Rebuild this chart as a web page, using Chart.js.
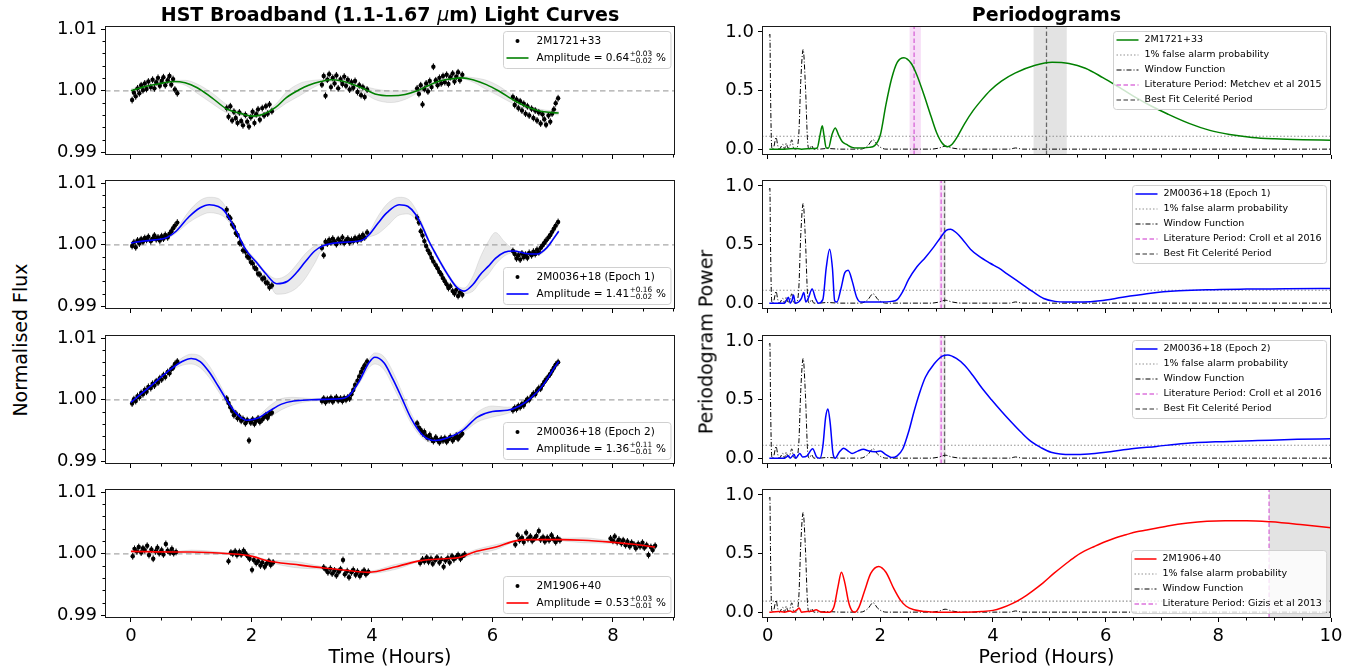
<!DOCTYPE html>
<html>
<head>
<meta charset="utf-8">
<title>HST light curves and periodograms</title>
<script src="https://cdn.jsdelivr.net/npm/chart.js@4.4.1/dist/chart.umd.min.js"></script>
<style>
  html, body { margin: 0; padding: 0; background: #ffffff; }
  #figure { position: relative; width: 1363px; height: 670px; overflow: hidden; background: #ffffff;
            font-family: "DejaVu Sans", sans-serif; color: #000; }
  #figure canvas { position: absolute; }
  .label { position: absolute; white-space: nowrap; line-height: 1; transform: translate(-50%, -50%); z-index: 5; }
  .title { font-weight: bold; font-size: 19px; }
  .axis-title { font-size: 19px; }
  .vertical { transform: translate(-50%, -50%) rotate(-90deg); }
</style>
</head>
<body>
<div id="figure">
  <div class="label title" style="left:390px;top:13.5px">HST Broadband (1.1-1.67 <span style="font-style:italic;font-weight:normal">μ</span>m) Light Curves</div>
  <div class="label title" style="left:1046.5px;top:13.5px">Periodograms</div>
  <div class="label axis-title" style="left:390px;top:656px">Time (Hours)</div>
  <div class="label axis-title" style="left:1046.5px;top:656px">Period (Hours)</div>
  <div class="label axis-title vertical" style="left:20px;top:340px">Normalised Flux</div>
  <div class="label axis-title vertical" style="left:706px;top:342px">Periodogram Power</div>
</div>
<script>
const FONT = '"DejaVu Sans", sans-serif';

// ---------------- light-curve photometry ----------------
// HST orbit time stamps (hours) shared by the 2M1721 and 2M0036 visits
const orbitTimes = [
  0.02,0.05,0.08,0.11,0.14,0.17,0.20,0.23,0.26,0.29,0.33,0.36,0.39,0.42,0.45,0.48,0.51,0.54,0.57,0.61,0.64,0.67,0.70,0.73,0.77,
  1.59,1.62,1.65,1.68,1.71,1.74,1.77,1.80,1.83,1.86,1.90,1.93,1.96,1.99,2.02,2.05,2.08,2.11,2.14,2.18,2.21,2.24,2.27,2.30,2.34,
  3.17,3.20,3.23,3.26,3.29,3.32,3.35,3.38,3.41,3.44,3.48,3.51,3.54,3.57,3.60,3.63,3.66,3.69,3.72,3.76,3.79,3.82,3.85,3.88,3.92,
  4.75,4.78,4.81,4.84,4.87,4.90,4.93,4.96,4.99,5.02,5.06,5.09,5.12,5.15,5.18,5.21,5.24,5.27,5.30,5.34,5.37,5.40,5.43,5.46,5.50,
  6.34,6.37,6.40,6.43,6.46,6.49,6.52,6.55,6.58,6.61,6.65,6.68,6.71,6.74,6.77,6.80,6.83,6.86,6.89,6.93,6.96,6.99,7.02,7.05,7.09
];
// six-orbit visit of 2M1906+40
const orbitTimes1906 = [
  0.03,0.06,0.10,0.13,0.17,0.20,0.23,0.27,0.30,0.34,0.37,0.41,0.44,0.47,0.51,0.54,0.58,0.61,0.65,0.68,0.71,0.75,
  1.62,1.66,1.69,1.73,1.76,1.80,1.83,1.87,1.90,1.94,1.97,2.01,2.04,2.08,2.11,2.15,2.18,2.22,2.25,2.29,2.32,2.36,
  3.20,3.24,3.27,3.31,3.34,3.38,3.41,3.45,3.48,3.52,3.55,3.59,3.62,3.66,3.69,3.73,3.76,3.80,3.83,3.87,3.90,3.94,
  4.80,4.84,4.87,4.91,4.94,4.98,5.01,5.05,5.08,5.12,5.15,5.19,5.22,5.26,5.29,5.33,5.36,5.40,5.43,5.47,5.50,5.54,
  6.38,6.42,6.45,6.49,6.52,6.56,6.59,6.63,6.66,6.70,6.73,6.77,6.80,6.84,6.87,6.91,6.94,6.98,7.01,7.05,7.08,7.12,
  7.96,8.00,8.03,8.07,8.10,8.14,8.17,8.21,8.24,8.28,8.31,8.35,8.38,8.42,8.45,8.49,8.52,8.56,8.59,8.63,8.66,8.70
];

const flux1721 = [
  0.9985,0.9997,0.9991,1.0004,0.9996,1.0009,1.0001,1.0012,1.0003,1.0015,1.0006,1.0018,1.0004,1.0014,1.0021,1.0008,1.0016,1.0022,1.0009,1.0017,1.0024,1.0010,1.0019,1.0002,0.9996,
  0.9972,0.9958,0.9975,0.9952,0.9966,0.9956,0.9948,0.9965,0.9951,0.9944,0.9961,0.9950,0.9942,0.9957,0.9966,0.9948,0.9962,0.9970,0.9953,0.9972,0.9960,0.9975,0.9963,0.9978,0.9967,
  1.0010,1.0024,0.9992,1.0018,1.0027,1.0006,1.0021,1.0012,1.0025,1.0004,1.0019,1.0011,1.0023,1.0008,1.0018,1.0002,1.0014,1.0005,1.0016,0.9998,1.0009,0.9993,1.0006,0.9990,1.0002,
  1.0004,0.9995,1.0009,0.9978,1.0003,1.0012,0.9999,1.0016,1.0006,1.0039,1.0017,1.0009,1.0021,1.0012,1.0024,1.0014,1.0026,1.0011,1.0022,1.0028,1.0015,1.0023,1.0030,1.0017,1.0026,
  0.9990,0.9977,0.9986,0.9972,0.9983,0.9968,0.9979,0.9963,0.9975,0.9960,0.9971,0.9956,0.9968,0.9952,0.9965,0.9947,0.9962,0.9954,0.9945,0.9960,0.9950,0.9963,0.9970,0.9980,0.9988
];
const flux0036e1 = [
  0.9998,1.0004,0.9996,1.0007,1.0002,1.0009,1.0005,1.0011,1.0008,1.0013,1.0006,1.0010,1.0015,1.0009,1.0012,1.0007,1.0014,1.0010,1.0016,1.0012,1.0018,1.0022,1.0027,1.0031,1.0036,
  1.0057,1.0046,1.0043,1.0033,1.0029,1.0019,1.0016,1.0003,1.0002,0.9991,0.9989,0.9981,0.9979,0.9972,0.9970,0.9963,0.9961,0.9953,0.9952,0.9945,0.9946,0.9939,0.9938,0.9931,0.9934,
  0.9995,0.9983,1.0005,1.0002,1.0008,1.0004,1.0010,1.0006,1.0001,1.0009,1.0005,1.0012,1.0003,1.0007,1.0010,1.0004,1.0008,1.0006,1.0011,1.0007,1.0013,1.0009,1.0016,1.0012,1.0020,
  1.0044,1.0036,1.0022,1.0015,1.0006,0.9998,0.9991,0.9986,0.9979,0.9973,0.9967,0.9962,0.9956,0.9952,0.9946,0.9941,0.9936,0.9930,0.9933,0.9925,0.9921,0.9927,0.9917,0.9923,0.9919,
  0.9990,0.9985,0.9978,0.9983,0.9976,0.9986,0.9980,0.9984,0.9979,0.9987,0.9983,0.9989,0.9985,0.9992,0.9988,0.9995,0.9999,1.0003,1.0007,1.0012,1.0016,1.0021,1.0026,1.0031,1.0037
];
const flux0036e2 = [
  0.9994,1.0001,0.9998,1.0006,1.0004,1.0011,1.0009,1.0016,1.0013,1.0021,1.0019,1.0026,1.0023,1.0030,1.0028,1.0035,1.0033,1.0040,1.0037,1.0045,1.0043,1.0050,1.0052,1.0058,1.0062,
  1.0002,0.9995,0.9988,0.9982,0.9975,0.9978,0.9970,0.9973,0.9966,0.9969,0.9962,0.9967,0.9934,0.9963,0.9968,0.9961,0.9966,0.9970,0.9964,0.9968,0.9972,0.9975,0.9971,0.9977,0.9979,
  0.9998,1.0002,0.9996,1.0001,0.9999,1.0003,0.9997,1.0001,1.0004,0.9999,1.0002,0.9998,1.0003,1.0000,1.0004,1.0002,1.0009,1.0016,1.0024,1.0031,1.0038,1.0045,1.0051,1.0056,1.0062,
  0.9962,0.9955,0.9951,0.9946,0.9948,0.9941,0.9938,0.9943,0.9936,0.9933,0.9939,0.9935,0.9931,0.9937,0.9934,0.9938,0.9932,0.9936,0.9940,0.9934,0.9938,0.9942,0.9937,0.9941,0.9945,
  0.9983,0.9987,0.9985,0.9990,0.9988,0.9993,0.9991,0.9997,1.0001,1.0000,1.0006,1.0010,1.0009,1.0015,1.0019,1.0018,1.0024,1.0029,1.0033,1.0038,1.0042,1.0047,1.0052,1.0057,1.0061
];
const flux1906 = [
  0.9996,1.0008,1.0004,1.0011,1.0002,1.0009,1.0006,1.0013,0.9998,1.0007,0.9992,1.0004,1.0010,1.0001,1.0006,0.9999,1.0016,1.0005,1.0002,1.0008,1.0001,1.0003,
  0.9988,1.0002,1.0000,1.0004,0.9998,1.0003,0.9999,1.0005,1.0001,0.9996,0.9992,0.9974,0.9990,0.9985,0.9988,0.9981,0.9986,0.9979,0.9984,0.9988,0.9982,0.9986,
  0.9978,0.9974,0.9970,0.9976,0.9968,0.9973,0.9965,0.9971,0.9975,0.9990,0.9967,0.9972,0.9962,0.9970,0.9974,0.9966,0.9971,0.9964,0.9969,0.9973,0.9967,0.9971,
  0.9985,0.9991,0.9988,0.9994,0.9987,0.9992,0.9984,0.9990,0.9994,0.9986,0.9991,0.9979,0.9989,0.9993,0.9986,0.9996,0.9991,0.9995,0.9998,0.9992,0.9996,0.9999,
  1.0015,1.0030,1.0022,1.0026,1.0019,1.0034,1.0024,1.0028,1.0021,1.0025,1.0029,1.0037,1.0023,1.0027,1.0020,1.0026,1.0022,1.0030,1.0024,1.0019,1.0025,1.0022,
  1.0025,1.0021,1.0028,1.0019,1.0023,1.0017,1.0022,1.0014,1.0020,1.0012,1.0018,1.0015,1.0009,1.0016,1.0012,1.0018,1.0010,1.0014,0.9998,1.0011,1.0006,1.0013
];
const fluxErr = 0.00055;   // typical photometric uncertainty per exposure

// ---------------- Celerite GP fits: mean model and spread of posterior samples ----------------
const modelTime1721 = [0.0,0.2,0.45,0.7,0.9,1.1,1.34,1.6,1.83,2.02,2.2,2.4,2.58,2.8,2.95,3.15,3.32,3.5,3.7,3.85,4.05,4.32,4.55,4.75,4.95,5.1,5.3,5.5,5.7,5.9,6.1,6.37,6.6,6.8,6.95,7.1];
const model1721    = [1.0000,1.0006,1.0011,1.0015,1.0013,1.0005,0.9989,0.9970,0.9963,0.9959,0.9962,0.9973,0.9989,1.0002,1.0009,1.0015,1.0018,1.0016,1.0010,1.0004,0.9995,0.9992,0.9994,1.0000,1.0009,1.0015,1.0019,1.0021,1.0017,1.0010,1.0000,0.9984,0.9973,0.9967,0.9965,0.9964];
const sampleHi1721 = [1.0003,1.0008,1.0013,1.0017,1.0017,1.0011,0.9997,0.9977,0.9966,0.9962,0.9965,0.9978,0.9998,1.0012,1.0016,1.0018,1.0020,1.0018,1.0013,1.0008,1.0003,1.0000,1.0000,1.0003,1.0011,1.0017,1.0021,1.0023,1.0021,1.0017,1.0008,0.9990,0.9976,0.9970,0.9968,0.9967];
const sampleLo1721 = [0.9997,1.0004,1.0009,1.0013,1.0009,0.9996,0.9980,0.9964,0.9960,0.9956,0.9959,0.9968,0.9980,0.9992,1.0001,1.0011,1.0015,1.0013,1.0006,0.9998,0.9986,0.9981,0.9986,0.9996,1.0006,1.0013,1.0017,1.0019,1.0013,1.0002,0.9992,0.9978,0.9970,0.9964,0.9962,0.9961];

const modelTime0036e1 = [0.0,0.2,0.4,0.6,0.75,0.96,1.15,1.3,1.45,1.55,1.65,1.77,1.9,2.08,2.24,2.42,2.6,2.75,2.89,3.05,3.2,3.5,3.82,3.94,4.1,4.25,4.45,4.6,4.72,4.82,4.94,5.06,5.25,5.4,5.53,5.68,5.8,5.93,6.05,6.2,6.35,6.55,6.75,6.9,7.0,7.1];
const model0036e1    = [1.0003,1.0006,1.0008,1.0012,1.0022,1.0045,1.0060,1.0065,1.0062,1.0055,1.0040,1.0018,0.9993,0.9972,0.9953,0.9937,0.9941,0.9955,0.9972,0.9990,0.9999,1.0004,1.0007,1.0015,1.0035,1.0052,1.0065,1.0062,1.0050,1.0033,1.0007,0.9985,0.9953,0.9932,0.9925,0.9936,0.9952,0.9965,0.9978,0.9988,0.9990,0.9986,0.9985,0.9995,1.0008,1.0022];
const sampleHi0036e1 = [1.0005,1.0008,1.0010,1.0014,1.0025,1.0054,1.0072,1.0077,1.0075,1.0065,1.0046,1.0021,0.9996,0.9975,0.9956,0.9945,0.9952,0.9968,0.9985,0.9998,1.0002,1.0006,1.0009,1.0018,1.0046,1.0066,1.0077,1.0074,1.0059,1.0038,1.0010,0.9988,0.9956,0.9935,0.9930,0.9950,0.9980,1.0005,1.0020,1.0005,0.9993,0.9988,0.9987,0.9997,1.0010,1.0024];
const sampleLo0036e1 = [1.0001,1.0004,1.0006,1.0010,1.0019,1.0036,1.0047,1.0052,1.0050,1.0045,1.0034,1.0015,0.9990,0.9969,0.9950,0.9920,0.9922,0.9930,0.9945,0.9970,0.9996,1.0002,1.0005,1.0012,1.0018,1.0030,1.0048,1.0050,1.0042,1.0028,1.0004,0.9982,0.9950,0.9929,0.9921,0.9925,0.9940,0.9952,0.9968,0.9982,0.9987,0.9984,0.9983,0.9993,1.0006,1.0020];

const modelTime0036e2 = [0.0,0.3,0.6,0.85,1.0,1.15,1.3,1.45,1.6,1.75,1.92,2.1,2.3,2.5,2.7,3.0,3.3,3.55,3.65,3.8,3.95,4.05,4.2,4.35,4.5,4.65,4.85,5.05,5.25,5.5,5.75,6.0,6.25,6.45,6.65,6.85,7.0,7.1];
const model0036e2    = [0.9996,1.0020,1.0045,1.0062,1.0067,1.0062,1.0045,1.0022,0.9998,0.9978,0.9967,0.9970,0.9982,0.9993,0.9998,1.0000,1.0001,1.0003,1.0010,1.0032,1.0060,1.0069,1.0060,1.0033,1.0002,0.9970,0.9942,0.9934,0.9938,0.9950,0.9972,0.9981,0.9983,0.9990,1.0004,1.0025,1.0048,1.0062];
const sampleHi0036e2 = [0.9998,1.0022,1.0047,1.0068,1.0074,1.0071,1.0055,1.0030,1.0003,0.9982,0.9970,0.9973,0.9990,1.0002,1.0004,1.0002,1.0003,1.0005,1.0013,1.0036,1.0066,1.0076,1.0070,1.0045,1.0012,0.9978,0.9946,0.9937,0.9941,0.9954,0.9980,0.9990,0.9988,0.9993,1.0007,1.0028,1.0051,1.0064];
const sampleLo0036e2 = [0.9994,1.0018,1.0043,1.0056,1.0058,1.0052,1.0036,1.0014,0.9992,0.9972,0.9962,0.9964,0.9972,0.9984,0.9992,0.9998,0.9999,1.0001,1.0007,1.0028,1.0052,1.0058,1.0049,1.0022,0.9992,0.9962,0.9937,0.9930,0.9935,0.9946,0.9964,0.9972,0.9978,0.9987,1.0001,1.0022,1.0045,1.0060];

const modelTime1906 = [0.0,0.75,1.0,1.65,1.96,2.3,2.7,3.2,3.6,3.94,4.4,4.81,5.2,5.45,5.7,6.06,6.38,6.6,7.12,7.5,7.96,8.3,8.7];
const model1906    = [1.0004,1.0003,1.0003,1.0000,0.9997,0.9988,0.9983,0.9977,0.9973,0.9970,0.9979,0.9989,0.9992,0.9994,1.0003,1.0011,1.0021,1.0023,1.0023,1.0022,1.0019,1.0016,1.0011];
const sampleHi1906 = [1.0005,1.0004,1.0006,1.0001,0.9998,0.9990,0.9988,0.9979,0.9974,0.9972,0.9983,0.9990,0.9993,0.9996,1.0006,1.0015,1.0022,1.0024,1.0025,1.0026,1.0021,1.0017,1.0012];
const sampleLo1906 = [1.0003,1.0002,1.0000,0.9999,0.9996,0.9986,0.9978,0.9975,0.9972,0.9968,0.9975,0.9988,0.9991,0.9992,0.9999,1.0007,1.0020,1.0022,1.0021,1.0018,1.0017,1.0015,1.0010];

// ---------------- Lomb-Scargle periodograms ----------------
const pgPeriod1721 = [0.03,0.3,0.5,0.6,0.8,0.88,0.93,0.97,1.0,1.04,1.08,1.14,1.2,1.26,1.33,1.4,1.5,1.6,1.8,1.9,2.0,2.1,2.2,2.3,2.42,2.55,2.65,2.77,2.9,3.0,3.1,3.19,3.27,3.36,3.5,3.65,3.8,3.95,4.15,4.4,4.75,5.05,5.35,5.64,5.95,6.23,6.5,6.8,7.1,7.48,7.85,8.2,8.6,9.0,9.5,10.0];
const pgPower1721  = [0.0,0.0,0.005,0.0,0.005,0.01,0.12,0.2,0.12,0.01,0.01,0.12,0.18,0.12,0.06,0.04,0.015,0.01,0.015,0.03,0.12,0.38,0.6,0.74,0.78,0.73,0.63,0.47,0.28,0.14,0.05,0.02,0.04,0.1,0.22,0.33,0.42,0.5,0.58,0.65,0.715,0.74,0.73,0.69,0.61,0.53,0.45,0.37,0.3,0.22,0.16,0.125,0.1,0.088,0.08,0.076];

const pgPeriod0036e1 = [0.03,0.3,0.34,0.37,0.4,0.43,0.46,0.49,0.55,0.6,0.64,0.68,0.72,0.79,0.85,0.9,0.98,1.04,1.1,1.15,1.19,1.23,1.3,1.37,1.43,1.5,1.58,1.65,1.8,2.0,2.2,2.3,2.4,2.5,2.65,2.8,2.95,3.07,3.17,3.25,3.35,3.45,3.6,3.75,3.95,4.1,4.25,4.4,4.55,4.7,4.9,5.1,5.3,5.6,5.9,6.3,6.8,7.3,7.8,8.5,9.2,10.0];
const pgPower0036e1  = [0.0,0.0,0.03,0.05,0.0,0.02,0.07,0.0,0.01,0.04,0.09,0.01,0.04,0.12,0.04,0.0,0.03,0.3,0.46,0.3,0.02,0.01,0.12,0.26,0.28,0.19,0.05,0.01,0.01,0.01,0.015,0.03,0.1,0.2,0.31,0.39,0.48,0.56,0.62,0.63,0.6,0.55,0.46,0.4,0.34,0.3,0.25,0.2,0.15,0.1,0.04,0.015,0.01,0.01,0.02,0.05,0.085,0.105,0.115,0.12,0.122,0.125];

const pgPeriod0036e2 = [0.03,0.3,0.37,0.4,0.47,0.5,0.57,0.62,0.7,0.8,0.87,0.93,0.98,1.03,1.07,1.11,1.16,1.2,1.27,1.35,1.43,1.5,1.6,1.7,1.8,1.9,2.0,2.1,2.2,2.3,2.4,2.5,2.6,2.7,2.8,2.95,3.1,3.2,3.35,3.5,3.65,3.8,3.97,4.15,4.32,4.5,4.68,4.85,5.03,5.39,5.7,6.0,6.4,6.9,7.4,8.0,8.7,9.4,10.0];
const pgPower0036e2  = [0.0,0.0,0.02,0.0,0.03,0.0,0.04,0.01,0.02,0.08,0.01,0.0,0.1,0.35,0.42,0.3,0.04,0.0,0.05,0.085,0.06,0.04,0.06,0.075,0.06,0.055,0.06,0.03,0.005,0.02,0.08,0.22,0.4,0.56,0.69,0.8,0.87,0.88,0.85,0.79,0.7,0.6,0.5,0.4,0.31,0.22,0.14,0.09,0.05,0.03,0.035,0.05,0.075,0.1,0.125,0.14,0.15,0.16,0.165];

const pgPeriod1906 = [0.03,0.2,0.3,0.4,0.45,0.52,0.56,0.6,0.7,0.8,0.86,0.92,1.0,1.1,1.18,1.25,1.31,1.37,1.44,1.5,1.55,1.62,1.72,1.83,1.97,2.1,2.24,2.36,2.46,2.6,2.8,3.0,3.5,3.8,4.0,4.15,4.35,4.52,4.7,4.89,5.08,5.26,5.45,5.62,5.8,5.99,6.18,6.36,6.55,6.73,7.1,7.46,7.8,8.12,8.5,8.93,9.5,10.0];
const pgPower1906  = [0.0,0.005,0.0,0.01,0.0,0.02,0.035,0.0,0.005,0.01,0.02,0.005,0.0,0.0,0.05,0.22,0.34,0.25,0.08,0.01,0.0,0.04,0.18,0.33,0.39,0.34,0.2,0.1,0.05,0.02,0.005,0.0,0.0,0.005,0.015,0.035,0.075,0.12,0.18,0.25,0.33,0.4,0.47,0.52,0.56,0.6,0.635,0.66,0.685,0.7,0.735,0.76,0.775,0.78,0.78,0.77,0.745,0.72];

// spectral window of the HST sampling
const windowPeriod = [0.03,0.04,0.05,0.065,0.08,0.11,0.15,0.18,0.21,0.25,0.27,0.3,0.33,0.36,0.39,0.43,0.46,0.5,0.55,0.59,0.63,0.67,0.71,0.74,0.78,0.82,0.9,1.05,1.3,1.65,1.78,1.87,1.96,2.1,2.9,3.05,3.15,3.27,3.45,4.3,4.4,4.52,10.0];
const windowPower  = [0.97,0.98,0.55,0.1,0.0,0.02,0.1,0.03,0.0,0.03,0.04,0.0,0.05,0.01,0.02,0.08,0.01,0.0,0.1,0.6,0.85,0.55,0.06,0.0,0.03,0.0,0.0,0.005,0.0,0.0,0.03,0.08,0.03,0.0,0.0,0.01,0.025,0.01,0.0,0.0,0.01,0.0,0.0];

const falseAlarm1pct = [0.11, 0.11, 0.11, 0.094];
const litPeriod      = [2.6, 3.08, 3.08, 8.9];
const litPeriodRange = [[2.52, 2.72], [3.05, 3.11], [3.05, 3.11], null];
const fitPeriod      = [4.95, 3.14, 3.14, null];
const fitPeriodRange = [[4.72, 5.31], [3.12, 3.16], [3.12, 3.16], [8.9, 10.5]];

// ---------------- labels and ticks ----------------
const targetNames = ['2M1721+33', '2M0036+18 (Epoch 1)', '2M0036+18 (Epoch 2)', '2M1906+40'];
const amplitude   = ['0.64', '1.41', '1.36', '0.53'];
const ampUpper    = ['+0.03', '+0.16', '+0.11', '+0.03'];
const ampLower    = ['\u22120.02', '\u22120.02', '\u22120.01', '\u22120.01'];
const litLabels   = ['Literature Period: Metchev et al 2015', 'Literature Period: Croll et al 2016',
                     'Literature Period: Croll et al 2016', 'Literature Period: Gizis et al 2013'];
const timeTicks   = [0, 2, 4, 6, 8];
const fluxTicks   = [0.99, 1.00, 1.01];
const periodTicks = [0, 2, 4, 6, 8, 10];
const powerTicks  = [0, 0.5, 1.0];

const timeRange   = [-0.43, 9.03];
const fluxRange   = [0.9896, 1.0105];
const periodRange = [-0.1, 10];
const powerRange  = [-0.05, 1.05];

const curveColors = ['#008000', '#0000ff', '#0000ff', '#ff0000'];
const LIT_COLOR = 'rgba(191,0,191,0.55)';
const FIT_COLOR = 'rgba(0,0,0,0.55)';
const FAP_COLOR = 'rgba(128,128,128,0.85)';

// ---------------- figure geometry ----------------
const panelTops = [26, 180, 335, 489];
const PANEL_H = 129;
const leftCol  = {x0: 105, x1: 675};
const rightCol = {x0: 762, x1: 1331};

const pts = (xs, ys) => xs.map((x, i) => ({x: x, y: ys[i]}));

const lightCurves = [
  {t: orbitTimes,     f: flux1721,   mt: modelTime1721,   m: model1721,   hi: sampleHi1721,   lo: sampleLo1721},
  {t: orbitTimes,     f: flux0036e1, mt: modelTime0036e1, m: model0036e1, hi: sampleHi0036e1, lo: sampleLo0036e1},
  {t: orbitTimes,     f: flux0036e2, mt: modelTime0036e2, m: model0036e2, hi: sampleHi0036e2, lo: sampleLo0036e2},
  {t: orbitTimes1906, f: flux1906,   mt: modelTime1906,   m: model1906,   hi: sampleHi1906,   lo: sampleLo1906}
];
const periodograms = [
  {p: pgPeriod1721,   w: pgPower1721},
  {p: pgPeriod0036e1, w: pgPower0036e1},
  {p: pgPeriod0036e2, w: pgPower0036e2},
  {p: pgPeriod1906,   w: pgPower1906}
];

// vertical error bars on each photometric point
Chart.register({
  id: 'errorBars',
  afterDatasetDraw(chart, args) {
    const ds = chart.data.datasets[args.index];
    if (ds.errY == null) return;
    const ys = chart.scales.y, ctx = chart.ctx, a = chart.chartArea;
    ctx.save();
    ctx.beginPath(); ctx.rect(a.left, a.top, a.width, a.height); ctx.clip();
    ctx.strokeStyle = '#000'; ctx.lineWidth = 1;
    ctx.beginPath();
    args.meta.data.forEach((pt, i) => {
      const v = ds.data[i].y;
      ctx.moveTo(pt.x, ys.getPixelForValue(v - ds.errY));
      ctx.lineTo(pt.x, ys.getPixelForValue(v + ds.errY));
    });
    ctx.stroke();
    ctx.restore();
  }
});

function minorTicks(min, max, step, majors) {
  const out = [];
  for (let k = Math.ceil(min / step - 1e-9); k * step <= max + 1e-9; k++) {
    const v = +(k * step).toFixed(6);
    if (!majors.some(m => Math.abs(m - v) < 1e-9)) out.push(v);
  }
  return out;
}

function roundedRect(ctx, x, y, w, h, r) {
  ctx.beginPath();
  ctx.moveTo(x + r, y);
  ctx.lineTo(x + w - r, y); ctx.arcTo(x + w, y, x + w, y + r, r);
  ctx.lineTo(x + w, y + h - r); ctx.arcTo(x + w, y + h, x + w - r, y + h, r);
  ctx.lineTo(x + r, y + h); ctx.arcTo(x, y + h, x, y + h - r, r);
  ctx.lineTo(x, y + r); ctx.arcTo(x, y, x + r, y, r);
  ctx.closePath();
}

function drawLegend(chart, lg) {
  const {ctx, chartArea: a} = chart;
  const f = lg.size, fs = f * 0.7;
  const mainFont = f + 'px ' + FONT, smallFont = fs + 'px ' + FONT;
  ctx.save();
  const labelWidth = it => {
    ctx.font = mainFont;
    let w = ctx.measureText(it.text).width;
    if (it.sup) {
      ctx.font = smallFont;
      w += Math.max(ctx.measureText(it.sup).width, ctx.measureText(it.sub).width) + 1;
      ctx.font = mainFont;
      w += ctx.measureText(it.tail).width;
    }
    return w;
  };
  const textW = Math.max(...lg.items.map(labelWidth));
  const w = lg.padL + lg.handle + lg.gap + textW + lg.padR;
  const h = lg.rowH * lg.items.length + lg.extraH;
  const x = Math.round(a.right - lg.inset - w) + 0.5;
  const y = Math.round(lg.corner === 'ur' ? a.top + lg.inset : a.bottom - lg.inset - h) + 0.5;
  roundedRect(ctx, x, y, w, h, 3);
  ctx.fillStyle = 'rgba(255,255,255,0.8)'; ctx.fill();
  ctx.strokeStyle = '#d0d0d0'; ctx.lineWidth = 1; ctx.stroke();
  lg.items.forEach((it, i) => {
    const cy = y + lg.first + i * lg.rowH;
    const hx0 = x + lg.padL, hx1 = hx0 + lg.handle;
    if (it.marker === 'dot') {
      ctx.beginPath(); ctx.arc((hx0 + hx1) / 2, cy, 2, 0, Math.PI * 2);
      ctx.fillStyle = '#000'; ctx.fill();
    } else {
      ctx.beginPath(); ctx.setLineDash(it.dash || []);
      ctx.strokeStyle = it.color; ctx.lineWidth = it.width;
      ctx.moveTo(hx0, cy); ctx.lineTo(hx1, cy); ctx.stroke(); ctx.setLineDash([]);
    }
    let tx = hx1 + lg.gap;
    ctx.fillStyle = '#000'; ctx.textBaseline = 'middle'; ctx.textAlign = 'left';
    ctx.font = mainFont; ctx.fillText(it.text, tx, cy);
    if (it.sup) {
      tx += ctx.measureText(it.text).width;
      ctx.font = smallFont;
      ctx.fillText(it.sup, tx + 0.5, cy - f * 0.38);
      ctx.fillText(it.sub, tx + 0.5, cy + f * 0.34);
      tx += Math.max(ctx.measureText(it.sup).width, ctx.measureText(it.sub).width) + 1;
      ctx.font = mainFont; ctx.fillText(it.tail, tx, cy);
    }
  });
  ctx.restore();
}

// shaded period ranges, panel frame, minor ticks and legend box
function decorPlugin(spec) {
  return {
    id: 'decor',
    beforeDatasetsDraw(chart) {
      if (!spec.bands) return;
      const {ctx, chartArea: a, scales: {x}} = chart;
      ctx.save();
      ctx.beginPath(); ctx.rect(a.left, a.top, a.width, a.height); ctx.clip();
      spec.bands.forEach(b => {
        const x0 = x.getPixelForValue(b.from), x1 = x.getPixelForValue(b.to);
        ctx.fillStyle = b.color;
        ctx.fillRect(x0, a.top, x1 - x0, a.height);
      });
      ctx.restore();
    },
    afterDatasetsDraw(chart) {
      const {ctx, chartArea: a, scales: {x, y}} = chart;
      ctx.save();
      ctx.strokeStyle = '#000'; ctx.lineWidth = 1;
      ctx.beginPath();
      (spec.minorX || []).forEach(v => {
        const px = Math.round(x.getPixelForValue(v) - 0.5) + 0.5;
        ctx.moveTo(px, a.bottom); ctx.lineTo(px, a.bottom + 2.5);
      });
      (spec.minorY || []).forEach(v => {
        const py = Math.round(y.getPixelForValue(v) - 0.5) + 0.5;
        ctx.moveTo(a.left, py); ctx.lineTo(a.left - 2.5, py);
      });
      ctx.stroke();
      ctx.strokeStyle = '#1a1a1a';
      ctx.strokeRect(a.left + 0.5, a.top + 0.5, a.width - 1, a.height - 1);
      ctx.restore();
    },
    afterDraw(chart) { if (spec.legend) drawLegend(chart, spec.legend); }
  };
}

const figure = document.getElementById('figure');

function makePanel(o) {
  const padT = 14, padR = 22;
  const xAxisH = o.showXLabels ? 36 : 8;
  const W = o.axisW + (o.col.x1 - o.col.x0) + padR;
  const H = padT + PANEL_H + xAxisH;
  const cv = document.createElement('canvas');
  cv.width = W; cv.height = H;
  cv.style.left = (o.col.x0 - o.axisW) + 'px';
  cv.style.top = (o.top - padT) + 'px';
  cv.style.width = W + 'px'; cv.style.height = H + 'px';
  figure.appendChild(cv);
  const tickFont = {family: FONT, size: 18};
  const grid = {drawOnChartArea: false, drawTicks: true, tickLength: 4, tickColor: '#000', tickWidth: 1, lineWidth: 1};
  return new Chart(cv.getContext('2d'), {
    type: 'line',
    data: {datasets: o.datasets},
    options: {
      responsive: false, maintainAspectRatio: false, animation: false, devicePixelRatio: 1, events: [],
      layout: {padding: {top: padT, right: padR, bottom: 0, left: 0}},
      plugins: {legend: {display: false}, tooltip: {enabled: false}},
      scales: {
        x: {
          type: 'linear', min: o.xRange[0], max: o.xRange[1],
          afterBuildTicks: s => { s.ticks = o.xTicks.map(v => ({value: v})); },
          afterFit: s => { s.height = xAxisH; s.paddingLeft = 0; s.paddingRight = 0; },
          grid: grid, border: {display: false},
          ticks: {display: o.showXLabels, color: '#000', font: tickFont, padding: 4, maxRotation: 0,
                  autoSkip: false, callback: v => String(v)}
        },
        y: {
          type: 'linear', min: o.yRange[0], max: o.yRange[1],
          afterBuildTicks: s => { s.ticks = o.yTicks.map(v => ({value: v})); },
          afterFit: s => { s.width = o.axisW; s.paddingTop = 0; s.paddingBottom = 0; },
          grid: grid, border: {display: false},
          ticks: {color: '#000', font: tickFont, padding: 4, autoSkip: false,
                  callback: v => Number(v).toFixed(o.yDecimals)}
        }
      }
    },
    plugins: [decorPlugin(o.decor)]
  });
}

const minorTime = minorTicks(timeRange[0], timeRange[1], 0.5, timeTicks);
const minorFlux = minorTicks(0.99, 1.01, 0.002, fluxTicks);
const minorPeriod = minorTicks(periodRange[0], periodRange[1], 0.5, periodTicks);

// ----- left column: light curves -----
lightCurves.forEach((lc, k) => {
  const datasets = [
    {data: pts(lc.mt, lc.m), borderColor: curveColors[k], borderWidth: 1.6, pointRadius: 0, fill: false,
     cubicInterpolationMode: 'monotone', order: 1},
    {data: pts(lc.t, lc.f), showLine: false, pointRadius: 2.2, pointBackgroundColor: '#000',
     pointBorderColor: 'rgba(0,0,0,0)', pointBorderWidth: 0, errY: fluxErr, order: 3},
    {data: pts(lc.mt, lc.hi), borderColor: 'rgba(160,160,160,0.3)', borderWidth: 0.8,
     backgroundColor: 'rgba(150,150,150,0.2)', fill: '+1', pointRadius: 0, cubicInterpolationMode: 'monotone', order: 5},
    {data: pts(lc.mt, lc.lo), borderColor: 'rgba(160,160,160,0.3)', borderWidth: 0.8,
     fill: false, pointRadius: 0, cubicInterpolationMode: 'monotone', order: 5},
    {data: [{x: timeRange[0], y: 1}, {x: timeRange[1], y: 1}], borderColor: '#a8a8a8', borderWidth: 1.3,
     borderDash: [5.5, 3.5], pointRadius: 0, fill: false, order: 6}
  ];
  makePanel({
    col: leftCol, top: panelTops[k], axisW: 65, showXLabels: k === 3,
    xRange: timeRange, yRange: fluxRange, xTicks: timeTicks, yTicks: fluxTicks, yDecimals: 2,
    datasets: datasets,
    decor: {
      minorX: minorTime, minorY: minorFlux,
      legend: {
        corner: k === 0 ? 'ur' : 'lr', size: 10.5, rowH: 17, first: 9.5, extraH: 3,
        padL: 3, handle: 22, gap: 8, padR: 5, inset: 5,
        items: [
          {marker: 'dot', text: targetNames[k]},
          {marker: 'line', color: curveColors[k], width: 1.6, text: 'Amplitude = ' + amplitude[k],
           sup: ampUpper[k], sub: ampLower[k], tail: ' %'}
        ]
      }
    }
  });
});

// ----- right column: periodograms -----
periodograms.forEach((pg, k) => {
  const datasets = [
    {data: pts(pg.p, pg.w), borderColor: curveColors[k], borderWidth: 1.5, pointRadius: 0, fill: false,
     cubicInterpolationMode: 'monotone', order: 1},
    {data: pts(windowPeriod, windowPower), borderColor: '#000', borderWidth: 1, borderDash: [5, 2, 1, 2],
     pointRadius: 0, fill: false, cubicInterpolationMode: 'monotone', order: 2},
    {data: [{x: periodRange[0], y: falseAlarm1pct[k]}, {x: periodRange[1], y: falseAlarm1pct[k]}],
     borderColor: FAP_COLOR, borderWidth: 1.2, borderDash: [1.5, 2], pointRadius: 0, fill: false, order: 3},
    {data: [{x: litPeriod[k], y: powerRange[0]}, {x: litPeriod[k], y: powerRange[1]}],
     borderColor: LIT_COLOR, borderWidth: 1.3, borderDash: [4.5, 2.5], pointRadius: 0, fill: false, order: 4}
  ];
  if (fitPeriod[k] != null) {
    datasets.push({data: [{x: fitPeriod[k], y: powerRange[0]}, {x: fitPeriod[k], y: powerRange[1]}],
      borderColor: FIT_COLOR, borderWidth: 1.3, borderDash: [4.5, 2.5], pointRadius: 0, fill: false, order: 4});
  }
  const bands = [];
  if (litPeriodRange[k]) bands.push({from: litPeriodRange[k][0], to: litPeriodRange[k][1], color: 'rgba(191,0,191,0.13)'});
  if (fitPeriodRange[k]) bands.push({from: fitPeriodRange[k][0], to: fitPeriodRange[k][1], color: 'rgba(0,0,0,0.11)'});
  const items = [
    {marker: 'line', color: curveColors[k], width: 1.5, text: targetNames[k]},
    {marker: 'line', color: FAP_COLOR, width: 1.2, dash: [1.5, 2], text: '1% false alarm probability'},
    {marker: 'line', color: '#000', width: 1, dash: [5, 2, 1, 2], text: 'Window Function'},
    {marker: 'line', color: LIT_COLOR, width: 1.3, dash: [4.5, 2.5], text: litLabels[k]}
  ];
  if (fitPeriod[k] != null) items.push({marker: 'line', color: FIT_COLOR, width: 1.3, dash: [4.5, 2.5], text: 'Best Fit Celerité Period'});
  makePanel({
    col: rightCol, top: panelTops[k], axisW: 62, showXLabels: k === 3,
    xRange: periodRange, yRange: powerRange, xTicks: periodTicks, yTicks: powerTicks, yDecimals: 1,
    datasets: datasets,
    decor: {
      bands: bands, minorX: minorPeriod,
      legend: {
        corner: k === 3 ? 'lr' : 'ur', size: 9.5, rowH: 15, first: 8.5, extraH: 3,
        padL: 3, handle: 22, gap: 6, padR: 5, inset: 5, items: items
      }
    }
  });
});
</script>
</body>
</html>
